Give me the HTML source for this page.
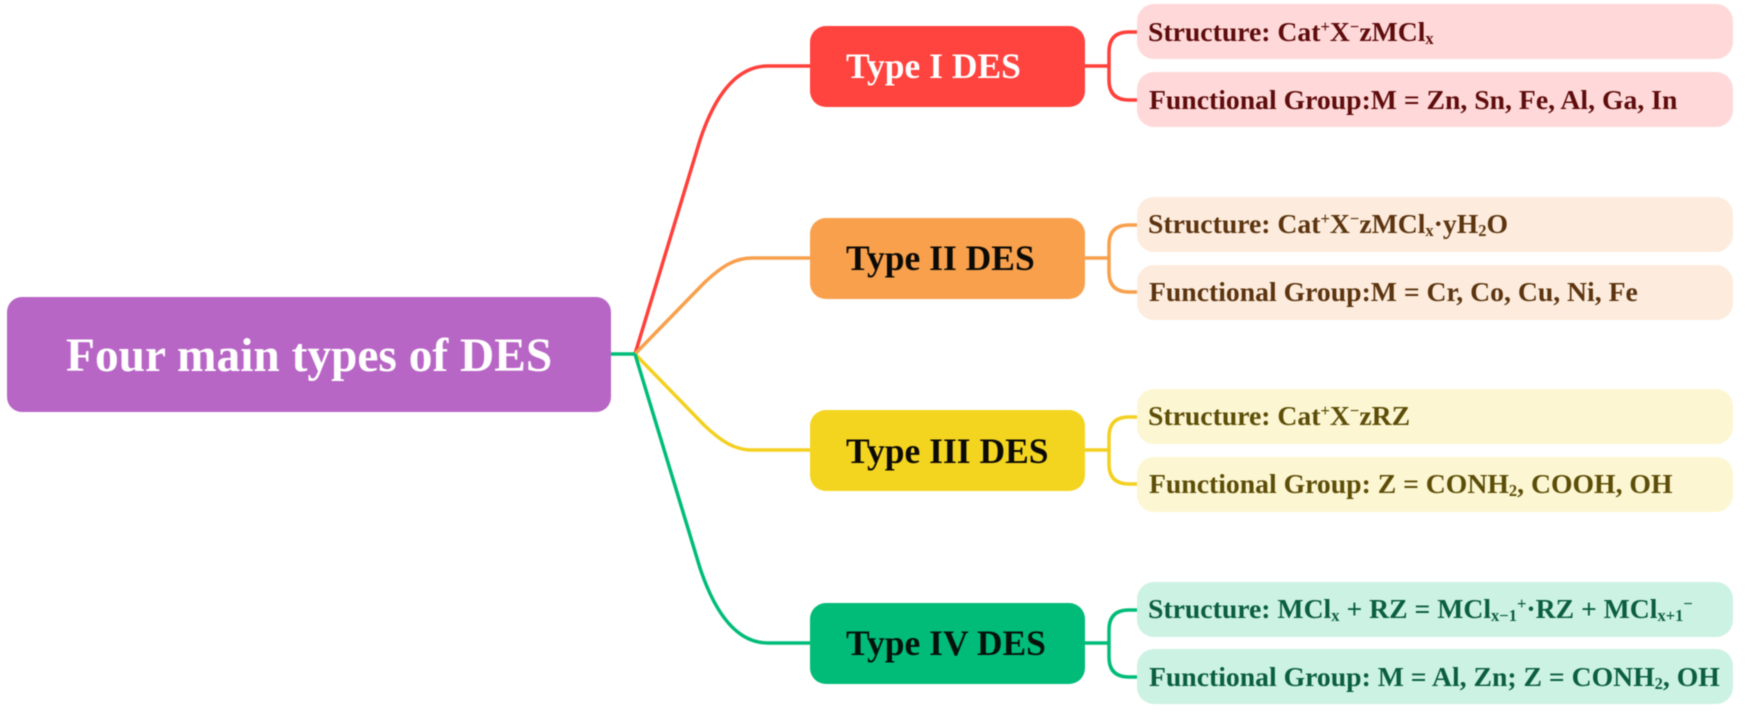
<!DOCTYPE html>
<html>
<head>
<meta charset="utf-8">
<style>
html,body{margin:0;padding:0;background:#fff;width:1750px;height:718px;overflow:hidden}
svg{display:block;filter:blur(0.5px)}
text{font-family:"Liberation Serif",serif;font-weight:bold}
.n{font-size:35.5px}
.p{font-size:27.7px}
.s{font-size:16.5px}
</style>
</head>
<body>
<svg width="1750" height="718" viewBox="0 0 1750 718" xmlns="http://www.w3.org/2000/svg">
<g fill="none" stroke-width="3.5" stroke-linejoin="round">
<path d="M635 354 L700 140 C716 92 738 66 768 66 L812 66" stroke="#FF3F3A"/>
<path d="M635 354 L704 283 C722 266 735 258 752 258 L812 258" stroke="#F8A04C"/>
<path d="M635 354 L704 425 C722 442 735 450 752 450 L812 450" stroke="#F3D020"/>
<path d="M635 354 L700 568 C716 616 738 643 768 643 L812 643" stroke="#00BC78"/>
<path d="M609 354 L635 354" stroke="#00BC78"/>

<path d="M1083 66 L1109 66 M1140 32 L1129 32 Q1109 32 1109 52 L1109 80 Q1109 100 1129 100 L1140 100" stroke="#FF3F3A"/>
<path d="M1083 258 L1109 258 M1140 225 L1129 225 Q1109 225 1109 245 L1109 272 Q1109 292 1129 292 L1140 292" stroke="#F8A04C"/>
<path d="M1083 450 L1109 450 M1140 417 L1129 417 Q1109 417 1109 437 L1109 464 Q1109 484 1129 484 L1140 484" stroke="#F3D020"/>
<path d="M1083 643 L1109 643 M1140 610 L1129 610 Q1109 610 1109 630 L1109 657 Q1109 677 1129 677 L1140 677" stroke="#00BC78"/>
</g>

<rect x="7" y="297" width="604" height="115" rx="15" fill="#B866C6"/>
<rect x="810" y="26" width="275" height="81" rx="16" fill="#FF433E"/>
<rect x="810" y="218" width="275" height="81" rx="16" fill="#F8A04C"/>
<rect x="810" y="410" width="275" height="81" rx="16" fill="#F3D520"/>
<rect x="810" y="603" width="275" height="81" rx="16" fill="#00BC78"/>

<rect x="1137" y="4" width="596" height="55" rx="17" fill="#FFD9D9"/>
<rect x="1137" y="72" width="596" height="55" rx="17" fill="#FFD9D9"/>
<rect x="1137" y="197" width="596" height="55" rx="17" fill="#FDECDD"/>
<rect x="1137" y="265" width="596" height="55" rx="17" fill="#FDECDD"/>
<rect x="1137" y="389" width="596" height="55" rx="17" fill="#FDF6D2"/>
<rect x="1137" y="457" width="596" height="55" rx="17" fill="#FDF6D2"/>
<rect x="1137" y="582" width="596" height="55" rx="17" fill="#CCF2E4"/>
<rect x="1137" y="649" width="596" height="55" rx="17" fill="#CCF2E4"/>

<text x="66" y="371" font-size="47.4" fill="#fff">Four main types of DES</text>
<text class="n" x="846" y="78" fill="#fff">Type I DES</text>
<text class="n" x="846" y="270" fill="#0c0a05">Type II DES</text>
<text class="n" x="846" y="463" fill="#0c0a05">Type III DES</text>
<text class="n" x="846" y="655" fill="#04120c">Type IV DES</text>

<g fill="#5E0C0C">
<text class="p" x="1148" y="41">Structure: Cat<tspan class="s" dy="-9">+</tspan><tspan dy="9">X</tspan><tspan class="s" dy="-9">−</tspan><tspan dy="9">zMCl</tspan><tspan class="s" dy="3">x</tspan></text>
<text class="p" x="1149" y="109">Functional Group:M = Zn, Sn, Fe, Al, Ga, In</text>
</g>
<g fill="#5C3410">
<text class="p" x="1148" y="233">Structure: Cat<tspan class="s" dy="-9">+</tspan><tspan dy="9">X</tspan><tspan class="s" dy="-9">−</tspan><tspan dy="9">zMCl</tspan><tspan class="s" dy="3">x</tspan><tspan dy="-3">·yH</tspan><tspan class="s" dy="3">2</tspan><tspan dy="-3">O</tspan></text>
<text class="p" x="1149" y="301">Functional Group:M = Cr, Co, Cu, Ni, Fe</text>
</g>
<g fill="#5C4E08">
<text class="p" x="1148" y="425">Structure: Cat<tspan class="s" dy="-9">+</tspan><tspan dy="9">X</tspan><tspan class="s" dy="-9">−</tspan><tspan dy="9">zRZ</tspan></text>
<text class="p" x="1149" y="493">Functional Group: Z = CONH<tspan class="s" dy="3">2</tspan><tspan dy="-3">, COOH, OH</tspan></text>
</g>
<g fill="#0B5E40">
<text class="p" x="1148" y="618">Structure: MCl<tspan class="s" dy="3">x</tspan><tspan dy="-3"> + RZ = MCl</tspan><tspan class="s" dy="3">x−1</tspan><tspan class="s" dy="-12">+</tspan><tspan dy="9">·RZ + MCl</tspan><tspan class="s" dy="3">x+1</tspan><tspan class="s" dy="-12">−</tspan></text>
<text class="p" x="1149" y="686">Functional Group: M = Al, Zn; Z = CONH<tspan class="s" dy="3">2</tspan><tspan dy="-3">, OH</tspan></text>
</g>
</svg>
</body>
</html>
